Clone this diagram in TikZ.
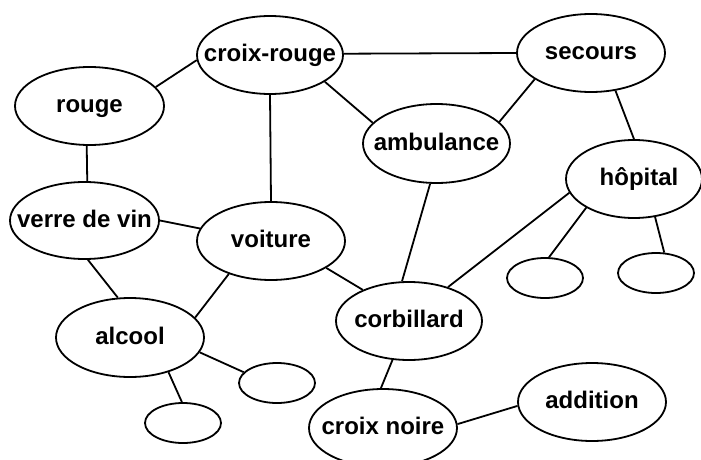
\documentclass[tikz,border=0pt]{standalone}
\usepackage{fontspec}
\setmainfont{Liberation Sans}
\usetikzlibrary{shapes.geometric}
\begin{document}
\begin{tikzpicture}[x=1pt,y=-1pt,
  bub/.style={draw, ellipse, line width=1.8pt, inner sep=0pt,
    minimum width=148pt, minimum height=78pt,
    text height=17pt, text depth=3.5pt,
    font=\fontsize{24}{28}\selectfont\bfseries},
  small/.style={draw, ellipse, line width=1.8pt, inner sep=0pt,
    minimum width=76pt, minimum height=40pt},
  link/.style={line width=1.8pt}]
\useasboundingbox (0,0) rectangle (701,460);
\node[bub, minimum width=146pt] (cr) at (270,55) {\makebox[0pt]{croix-rouge}};
\node[bub, minimum width=149pt] (rg) at (89.5,106) {\makebox[0pt]{rouge}};
\node[bub] (sc) at (591,53) {\makebox[0pt]{secours}};
\node[bub, minimum width=147pt, minimum height=79pt] (am) at (436.5,143.5) {\makebox[0pt]{ambulance}};
\node[bub, minimum width=136pt] (hp) at (634,179) {\makebox[0pt]{\kern10pt hôpital}};
\node[bub, minimum width=149pt, minimum height=77pt] (vv) at (84.5,220.5) {\makebox[0pt]{verre de vin}};
\node[bub] (vo) at (271,241) {\makebox[0pt]{voiture}};
\node[bub, minimum width=146pt] (co) at (409,321) {\makebox[0pt]{corbillard}};
\node[bub, minimum height=79pt] (al) at (130,337.5) {\makebox[0pt]{alcool}};
\node[bub] (cn) at (383,428) {\makebox[0pt]{croix noire}};
\node[bub] (ad) at (592,402) {\makebox[0pt]{addition}};
\node[small] (s1) at (545,278) {};
\node[small] (s2) at (656,273) {};
\node[small] (s3) at (277,383) {};
\node[small] (s4) at (183,423) {};
\draw[link] (rg.16.7) -- (cr.184);
\draw[link] (cr.1.6) -- (sc.180);
\draw[link] (cr.334.3) -- (am.162.4);
\draw[link] (cr.south) -- (vo.north);
\draw[link] (sc.205) -- (am.19.3);
\draw[link] (sc.303.3) -- (hp.90);
\draw[link] (rg.266.3) -- (vv.86.3);
\draw[link] (vv.0) -- (vo.170.4);
\draw[link] (vv.275) -- (al.107.3);
\draw[link] (vo.218.8) -- (al.17.8);
\draw[link] (vo.334.3) -- (co.146);
\draw[link] (am.261) -- (co.100);
\draw[link] (hp.192) -- (co.41);
\draw[link] (hp.211.7) -- (s1.79);
\draw[link] (hp.299.4) -- (s2.68);
\draw[link] (al.348.6) -- (s3.162.6);
\draw[link] (al.318.5) -- (s4.93);
\draw[link] (co.247.7) -- (cn.93);
\draw[link] (cn.3.8) -- (ad.183.9);
\end{tikzpicture}
\end{document}
